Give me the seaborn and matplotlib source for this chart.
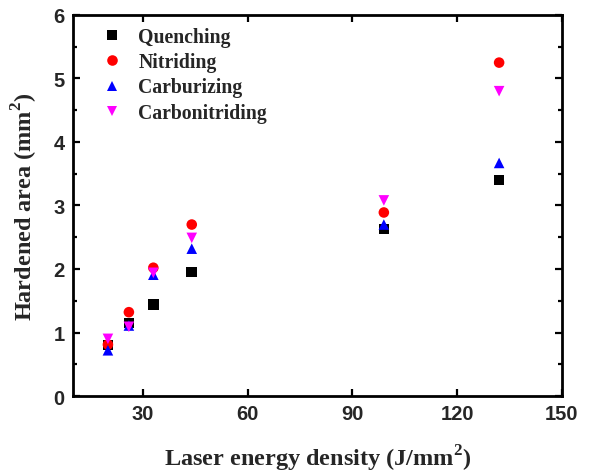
import matplotlib
matplotlib.use("Agg")
import matplotlib.pyplot as plt
from matplotlib.ticker import MultipleLocator
import seaborn as sns
import pandas as pd

# Laser energy density (J/mm^2) for each processed track
energy = [20, 26, 33, 44, 99, 132]

# Hardened area (mm^2) for each pre-treatment
quenching = [0.80, 1.15, 1.44, 1.95, 2.63, 3.40]
nitriding = [0.81, 1.32, 2.02, 2.70, 2.89, 5.25]
carburizing = [0.72, 1.11, 1.91, 2.32, 2.70, 3.67]
carbonitriding = [0.90, 1.09, 1.94, 2.49, 3.08, 4.80]

treatments = ["Quenching", "Nitriding", "Carburizing", "Carbonitriding"]
colors = ["#000000", "#ff0000", "#0000ff", "#ff00ff"]
markers = ["s", "o", "^", "v"]

rows = []
for name, vals in zip(treatments, [quenching, nitriding, carburizing, carbonitriding]):
    for e, a in zip(energy, vals):
        rows.append({"energy": e, "area": a, "treatment": name})
df = pd.DataFrame(rows)

sns.set_style("ticks")
plt.rcParams["mathtext.fontset"] = "custom"
plt.rcParams["mathtext.rm"] = "Liberation Serif"
plt.rcParams["mathtext.bf"] = "Liberation Serif:bold"
serif = ["Liberation Serif", "DejaVu Serif"]
sans = ["Liberation Sans", "DejaVu Sans"]

fig = plt.figure(figsize=(5.92, 4.77), dpi=100)
ax = fig.add_axes([0.1233, 0.1677, 0.9493 - 0.1233, 0.9665 - 0.1677])

sns.scatterplot(
    data=df, x="energy", y="area", hue="treatment", style="treatment",
    hue_order=treatments, style_order=treatments,
    palette=dict(zip(treatments, colors)),
    markers=dict(zip(treatments, markers)),
    s=58, linewidth=0, ax=ax, legend=True,
)

ax.set_xlim(10, 150)
ax.set_ylim(0, 6)
ax.xaxis.set_major_locator(MultipleLocator(30))
ax.yaxis.set_major_locator(MultipleLocator(1))
ax.yaxis.set_minor_locator(MultipleLocator(0.5))

for side in ["left", "right", "top", "bottom"]:
    ax.spines[side].set_visible(True)
    ax.spines[side].set_linewidth(2.0)
    ax.spines[side].set_color("black")

ax.tick_params(which="both", direction="in", top=True, right=True, width=1.6, color="black")
ax.tick_params(which="major", length=5, pad=6)
ax.tick_params(which="minor", length=3)
ax.tick_params(axis="x", which="minor", bottom=False, top=False)

for lab in ax.get_xticklabels() + ax.get_yticklabels():
    lab.set_fontfamily(sans)
    lab.set_fontweight("bold")
    lab.set_fontsize(14.5)

ax.set_xlabel("Laser energy density (J/mm$^{\\mathbf{2}}$)", fontfamily=serif,
              fontweight="bold", fontsize=17.5, labelpad=14)
ax.set_ylabel("Hardened area (mm$^{\\mathbf{2}}$)", fontfamily=serif,
              fontweight="bold", fontsize=17.5, labelpad=10)

handles, labels = ax.get_legend_handles_labels()
leg = ax.legend(
    handles, labels, loc="upper left", bbox_to_anchor=(0.035, 1.0),
    frameon=False, handlelength=1.0, handletextpad=0.85, labelspacing=0.27,
    borderaxespad=0.2,
    prop={"family": serif, "weight": "bold", "size": 14.2},
)

fig.savefig("out.png", dpi=100)
